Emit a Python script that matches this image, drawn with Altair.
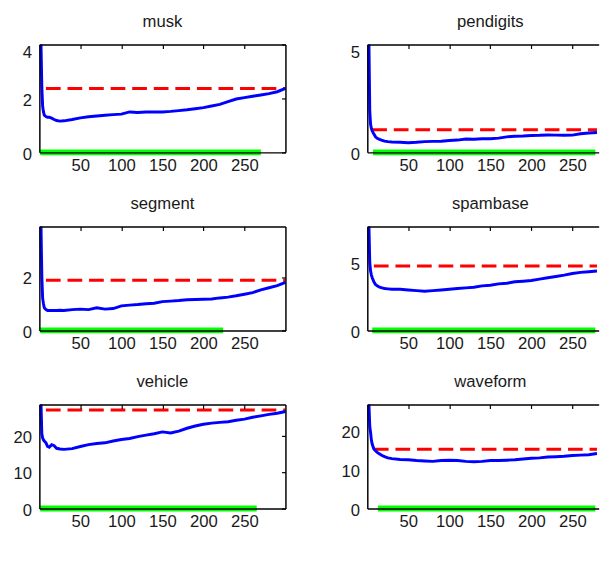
import altair as alt
import pandas as pd

FONT = "Liberation Sans"
TEXT = "#1a1a1a"

NAMES = ["musk", "pendigits", "segment", "spambase", "vehicle", "waveform"]

X_LEFT = [2, 3, 4, 5, 6, 8, 10, 12, 15, 18, 21, 25, 30, 40, 50, 60, 70, 80, 90, 100,
          110, 120, 130, 140, 150, 160, 170, 180, 190, 200, 210, 220, 230, 240, 250,
          260, 270, 280, 290, 300]
X_RIGHT = [2, 3, 4, 5, 6, 8, 10, 12, 15, 18, 21, 25, 30, 40, 50, 60, 70, 80, 90, 100,
           110, 120, 130, 140, 150, 160, 170, 180, 190, 200, 210, 220, 230, 240, 250,
           260, 270, 280]

MUSK = [4.0, 2.4, 1.7, 1.5, 1.38, 1.33, 1.30, 1.30, 1.27, 1.22, 1.18, 1.16, 1.17,
        1.22, 1.28, 1.32, 1.35, 1.38, 1.40, 1.42, 1.50, 1.48, 1.50, 1.50, 1.50, 1.52,
        1.55, 1.58, 1.62, 1.66, 1.72, 1.78, 1.88, 1.98, 2.03, 2.08, 2.13, 2.18, 2.25, 2.37]
PENDIGITS = [5.0, 1.9, 1.3, 1.1, 1.0, 0.85, 0.72, 0.65, 0.60, 0.56, 0.52, 0.50, 0.48,
             0.47, 0.45, 0.47, 0.50, 0.51, 0.52, 0.55, 0.57, 0.62, 0.61, 0.63, 0.63, 0.66,
             0.72, 0.75, 0.76, 0.78, 0.79, 0.81, 0.80, 0.79, 0.80, 0.86, 0.90, 0.92]
SEGMENT = [3.9, 2.0, 1.2, 1.0, 0.85, 0.78, 0.75, 0.75, 0.75, 0.75, 0.75, 0.76, 0.75,
           0.78, 0.80, 0.78, 0.85, 0.80, 0.82, 0.92, 0.95, 0.97, 1.00, 1.02, 1.08, 1.10,
           1.12, 1.15, 1.16, 1.17, 1.18, 1.22, 1.25, 1.30, 1.36, 1.42, 1.52, 1.60, 1.68, 1.80]
SPAMBASE = [7.7, 5.0, 4.4, 4.1, 3.9, 3.6, 3.4, 3.3, 3.2, 3.15, 3.1, 3.08, 3.05,
            3.05, 3.0, 2.95, 2.9, 2.95, 3.0, 3.05, 3.1, 3.15, 3.2, 3.3, 3.35, 3.45,
            3.5, 3.6, 3.65, 3.7, 3.8, 3.9, 4.0, 4.1, 4.22, 4.3, 4.35, 4.4]
VEHICLE = [28.5, 20.5, 19.3, 18.8, 18.5, 18.0, 17.0, 16.8, 17.5, 17.2, 16.5, 16.3, 16.2,
           16.4, 17.0, 17.5, 17.8, 18.0, 18.5, 18.9, 19.2, 19.7, 20.1, 20.5, 21.0, 20.7,
           21.2, 22.0, 22.6, 23.1, 23.4, 23.6, 23.8, 24.2, 24.5, 25.0, 25.4, 25.8, 26.1, 26.6]
WAVEFORM = [26.7, 21.0, 19.5, 17.5, 16.5, 15.3, 14.8, 14.4, 14.0, 13.6, 13.3, 13.0, 12.8,
            12.6, 12.5, 12.3, 12.2, 12.1, 12.3, 12.4, 12.3, 12.1, 12.0, 12.1, 12.3, 12.3,
            12.4, 12.5, 12.7, 12.9, 13.0, 13.2, 13.3, 13.4, 13.6, 13.7, 13.8, 14.1]
SERIES = [MUSK, PENDIGITS, SEGMENT, SPAMBASE, VEHICLE, WAVEFORM]

RED_LEVEL = [2.37, 1.05, 1.88, 4.78, 27.0, 15.2]
RED_START = [8, 6, 8, 8, 8, 8]
GREEN_START = [1, 7, 1, 6, 1, 13]
GREEN_END = [270, 278, 224, 278, 265, 278]
Y_MAX = [4, 5, 3.9, 7.7, 28.5, 26.7]
Y_TICKS = [[0, 2, 4], [0, 5], [0, 2], [0, 5], [0, 10, 20], [0, 10, 20]]
X_TICKS = [50, 100, 150, 200, 250]
ROW_H = [110, 106, 106]
PLOT_W = [251, 236]
X_MAX = [300, 282.1]
TITLE_DX = [0, 7.5]


def panel(i, col, row):
    xs = X_LEFT if col == 0 else X_RIGHT
    h = ROW_H[row]
    w = PLOT_W[col]
    blue = pd.DataFrame({"x": xs, "y": SERIES[i]})
    red = pd.DataFrame({"x": [RED_START[i], xs[-1]], "y": [RED_LEVEL[i], RED_LEVEL[i]]})
    green = pd.DataFrame({"x": [GREEN_START[i], GREEN_END[i]], "y": [0, 0]})
    xsc = alt.Scale(domain=[0, X_MAX[col]], nice=False, zero=False)
    ysc = alt.Scale(domain=[0, Y_MAX[i]], nice=False, zero=False)
    top_test = f"datum.value == {Y_MAX[i]}"

    x_axis = alt.Axis(orient="bottom", values=X_TICKS, title=None, ticks=False, tickSize=0, grid=False,
                      labelPadding=5, minExtent=10, maxExtent=40, labelOverlap=False,
                      labelFlush=False, domainColor="black", domainWidth=1.5, zindex=1)
    y_axis = alt.Axis(orient="left", values=Y_TICKS[i], title=None, ticks=False, tickSize=0, grid=False,
                      labelPadding=8, minExtent=32, maxExtent=32, labelOverlap=False,
                      labelBaseline={"condition": {"test": top_test, "value": "top"}, "value": "middle"},
                      labelOffset={"condition": {"test": top_test, "value": 0}, "value": 2},
                      domainColor="black", domainWidth=1.5, zindex=1)
    top_axis = alt.Axis(orient="bottom", offset=-h, values=X_TICKS, labels=False, title=None,
                        grid=False, ticks=True, tickSize=4, tickColor="black", tickWidth=1.2,
                        domainColor="black", domainWidth=1.5, minExtent=0, maxExtent=0, zindex=1)
    if col == 0:
        right_axis = alt.Axis(orient="left", offset=-w, values=Y_TICKS[i], labels=False, title=None,
                              grid=False, ticks=True, tickSize=4, tickColor="black", tickWidth=1.2,
                              domainColor="black", domainWidth=1.5, minExtent=0, maxExtent=0, zindex=1)
    else:
        right_axis = None

    g = alt.Chart(green).mark_line(color="#00ff00", strokeWidth=6).encode(
        x=alt.X("x:Q", scale=xsc, axis=None), y=alt.Y("y:Q", scale=ysc, axis=None))
    r = alt.Chart(red).mark_line(color="#ff0000", strokeWidth=3, strokeDash=[15, 7]).encode(
        x=alt.X("x:Q", scale=xsc, axis=top_axis), y=alt.Y("y:Q", scale=ysc, axis=right_axis))
    b = alt.Chart(blue).mark_line(color="#0000ff", strokeWidth=3).encode(
        x=alt.X("x:Q", scale=xsc, axis=x_axis), y=alt.Y("y:Q", scale=ysc, axis=y_axis))
    return alt.layer(g, r, b).resolve_axis(x="independent", y="independent").properties(
        width=w, height=h,
        title=alt.Title(text=NAMES[i], fontSize=17, font=FONT, fontWeight="normal", color=TEXT,
                        offset=8, anchor="middle", frame="group", dx=TITLE_DX[col]))


rows = []
for row in range(3):
    rows.append(alt.hconcat(panel(2 * row, 0, row), panel(2 * row + 1, 1, row), spacing=45.5))

chart = alt.vconcat(*rows, spacing=22.6).properties(
    padding=0
).configure_view(stroke=None).configure_axis(
    labelFont=FONT, labelFontSize=17, labelColor=TEXT
)

chart.save("out.html", embed_options={"renderer": "svg", "actions": False})
